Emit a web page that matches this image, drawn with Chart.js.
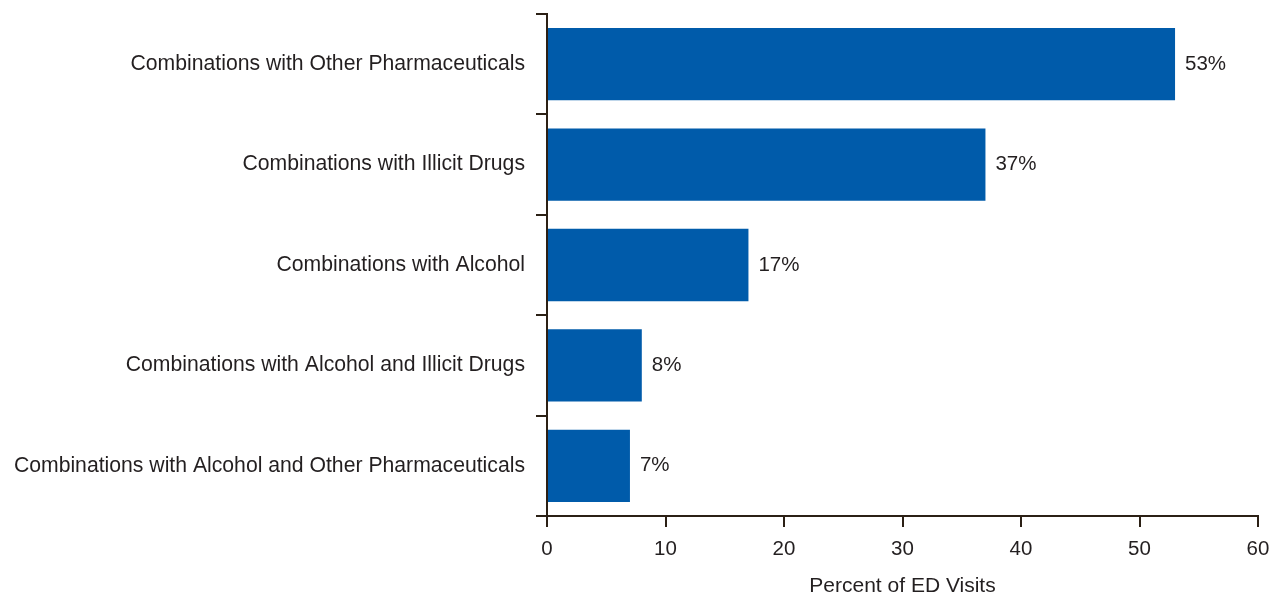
<!DOCTYPE html>
<html>
<head>
<meta charset="utf-8">
<script src="https://cdn.jsdelivr.net/npm/chart.js@4"></script>
<style>
  html, body { margin: 0; padding: 0; background: #fff; }
  #wrap { width: 1283px; height: 599px; position: relative; }
</style>
</head>
<body>
<div id="wrap"><canvas id="grafico"></canvas></div>
<script>
// data
const categorias = [
    'Combinations with Other Pharmaceuticals',
    'Combinations with Illicit Drugs',
    'Combinations with Alcohol',
    'Combinations with Alcohol and Illicit Drugs',
    'Combinations with Alcohol and Other Pharmaceuticals'
];
const porcentajes = [53, 37, 17, 8, 7];
const etiquetas = ['53%', '37%', '17%', '8%', '7%'];
const tituloX = 'Percent of ED Visits';

const colorTexto = '#231f20';
const colorEje = '#2b2015';
const fuente = 'Arial, "Liberation Sans", Helvetica, sans-serif';
const tam = 21.2;

// labels to the right of each bar
const etiquetasBarra = {
    id: 'etiquetasBarra',
    afterDatasetsDraw(chart) {
        const ctx = chart.ctx;
        const meta = chart.getDatasetMeta(0);
        ctx.save();
        ctx.font = '20.5px ' + fuente;
        ctx.fillStyle = colorTexto;
        ctx.textAlign = 'left';
        ctx.textBaseline = 'middle';
        meta.data.forEach((bar, i) => {
            ctx.fillText(etiquetas[i], bar.x + 10, bar.y);
        });
        ctx.restore();
    }
};

document.addEventListener('DOMContentLoaded', function() {
    const ctx = document.getElementById('grafico');
    new Chart(ctx.getContext('2d'), {
        type: 'bar',
        data: {
            labels: categorias,
            datasets: [{
                data: porcentajes,
                backgroundColor: '#005baa',
                borderWidth: 0,
                barPercentage: 0.72,
                categoryPercentage: 1
            }]
        },
        options: {
            indexAxis: 'y',
            responsive: true,
            maintainAspectRatio: false,
            animation: false,
            layout: { padding: { top: 14, right: 25, left: 0, bottom: 0 } },
            plugins: {
                legend: { display: false },
                tooltip: { enabled: false }
            },
            scales: {
                x: {
                    min: 0,
                    max: 60,
                    ticks: {
                        stepSize: 10,
                        color: colorTexto,
                        padding: 10,
                        font: { size: 20.5, family: fuente }
                    },
                    grid: {
                        drawOnChartArea: false,
                        color: colorEje,
                        lineWidth: 2,
                        tickLength: 11
                    },
                    border: { color: colorEje, width: 2 },
                    title: {
                        display: true,
                        text: tituloX,
                        color: colorTexto,
                        padding: { top: 12, bottom: 0 },
                        font: { size: 21, family: fuente }
                    },
                    afterFit(scale) { scale.height = 83; }
                },
                y: {
                    offset: true,
                    ticks: {
                        color: colorTexto,
                        padding: 11,
                        font: { size: tam, family: fuente }
                    },
                    grid: {
                        offset: true,
                        drawOnChartArea: false,
                        color: colorEje,
                        lineWidth: 2,
                        tickLength: 11
                    },
                    border: { color: colorEje, width: 2 },
                    afterFit(scale) {
                        scale.width = 547;
                        scale.paddingTop = 0;
                        scale.paddingBottom = 0;
                    }
                }
            }
        },
        plugins: [etiquetasBarra]
    });
});
</script>
</body>
</html>
